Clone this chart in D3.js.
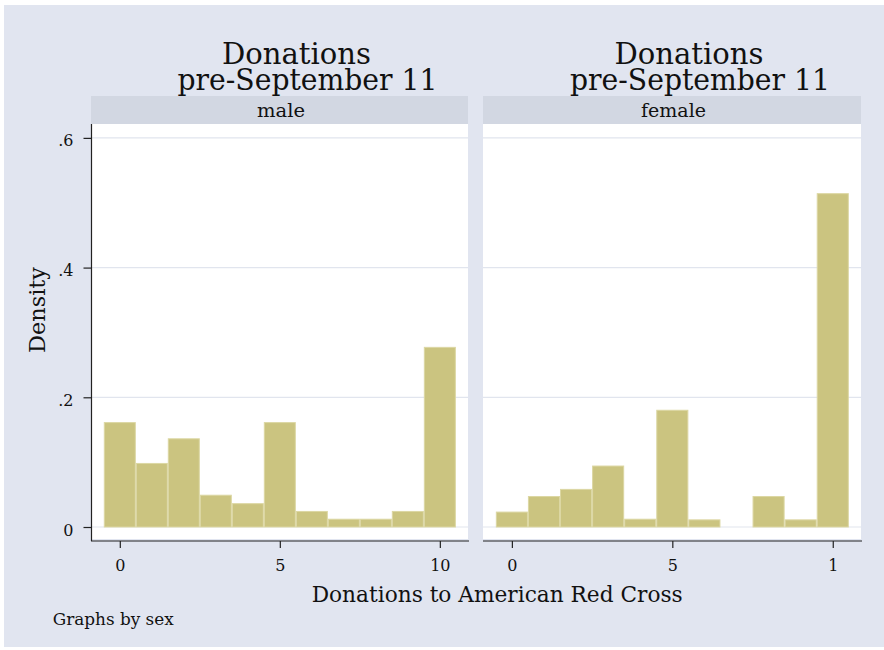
<!DOCTYPE html>
<html>
<head>
<meta charset="utf-8">
<script src="https://cdn.jsdelivr.net/npm/d3@7"></script>
<style>
  body { margin: 0; background: #ffffff; }
  text { font-family: "DejaVu Serif", serif; fill: #111; }
</style>
</head>
<body>
<div id="chart"></div>
<script>
const width = 884;
const height = 650;

// histogram bins: value 0..10, bin width 1
const binCenters = [0, 1, 2, 3, 4, 5, 6, 7, 8, 9, 10];
const maleDensity = [0.161, 0.098, 0.136, 0.049, 0.036, 0.161, 0.024, 0.012, 0.012, 0.024, 0.277];
const femaleDensity = [0.023, 0.047, 0.058, 0.094, 0.012, 0.180, 0.011, 0, 0.047, 0.011, 0.514];

const panelLabels = ["male", "female"];
const titleLines = ["Donations", "pre-September 11"];
const yTicks = [0, 0.2, 0.4, 0.6];
const yTickLabels = ["0", ".2", ".4", ".6"];
const xTicks = [0, 5, 10];
const maleXTickLabels = ["0", "5", "10"];
const femaleXTickLabels = ["0", "5", "1"];

const bgCol = "#e1e5f0";
const stripCol = "#d2d7e2";
const barFill = "#cbc480";
const barStroke = "#dcd7a3";
const gridCol = "#e1e5ee";

const panels = [
  {label: panelLabels[0], values: maleDensity, tickLabels: maleXTickLabels, x0: 91, x1: 468},
  {label: panelLabels[1], values: femaleDensity, tickLabels: femaleXTickLabels, x0: 483, x1: 861}
];

const svg = d3.select("#chart").append("svg")
  .attr("width", width)
  .attr("height", height);

svg.append("rect")
  .attr("x", 4).attr("y", 5)
  .attr("width", width - 4).attr("height", height - 8)
  .attr("fill", bgCol);

const yScale = d3.scaleLinear()
  .domain([-0.0185, 0.6214])
  .range([539, 124]);

panels.forEach((p, pi) => {
  const xScale = d3.scaleLinear()
    .domain([-0.9, 10.88])
    .range([p.x0, p.x1]);
  const cx = (p.x0 + p.x1) / 2;

  // title
  svg.append("text")
    .attr("x", cx + 17).attr("y", 64.3)
    .attr("text-anchor", "middle")
    .style("font-size", "29px")
    .attr("textLength", 149).attr("lengthAdjust", "spacingAndGlyphs")
    .text(titleLines[0]);
  svg.append("text")
    .attr("x", cx + 28).attr("y", 90)
    .attr("text-anchor", "middle")
    .style("font-size", "29px")
    .attr("textLength", 260).attr("lengthAdjust", "spacingAndGlyphs")
    .text(titleLines[1]);

  // strip
  svg.append("rect")
    .attr("x", p.x0).attr("y", 96)
    .attr("width", p.x1 - p.x0).attr("height", 28)
    .attr("fill", stripCol);
  svg.append("text")
    .attr("x", cx + 1.5).attr("y", 117.3)
    .attr("text-anchor", "middle")
    .style("font-size", "18px")
    .attr("textLength", pi === 0 ? 48 : 65).attr("lengthAdjust", "spacingAndGlyphs")
    .text(p.label);

  // plot area
  svg.append("rect")
    .attr("x", p.x0).attr("y", 124)
    .attr("width", p.x1 - p.x0).attr("height", 415)
    .attr("fill", "#ffffff");

  // gridlines
  svg.append("g")
    .selectAll("line")
    .data(yTicks)
    .join("line")
    .attr("x1", p.x0).attr("x2", p.x1)
    .attr("y1", d => yScale(d)).attr("y2", d => yScale(d))
    .attr("stroke", gridCol)
    .attr("stroke-width", 1.2);

  // bars
  svg.append("g")
    .selectAll("rect")
    .data(binCenters.map((c, i) => ({c: c, v: p.values[i]})).filter(d => d.v > 0))
    .join("rect")
    .attr("x", d => xScale(d.c - 0.5) + 0.5)
    .attr("width", d => xScale(d.c + 0.5) - xScale(d.c - 0.5) - 1)
    .attr("y", d => yScale(d.v))
    .attr("height", d => yScale(0) - yScale(d.v))
    .attr("fill", barFill)
    .attr("stroke", barStroke)
    .attr("stroke-width", 1);

  // x axis
  const xAxis = svg.append("g")
    .attr("transform", "translate(0,541)")
    .call(d3.axisBottom(xScale)
      .tickValues(xTicks)
      .tickSize(7)
      .tickSizeOuter(0)
      .tickFormat((d, i) => p.tickLabels[i]));
  xAxis.select(".domain").remove();
  xAxis.selectAll(".tick line").attr("stroke", "#222").attr("stroke-width", 1.2);
  xAxis.selectAll(".tick text")
    .attr("y", 0).attr("dy", null)
    .attr("transform", "translate(0,29.7)")
    .style("font-size", "16px")
    .style("font-family", "DejaVu Serif")
    .attr("fill", "#111");
  svg.append("line")
    .attr("x1", p.x0).attr("x2", p.x1 + 1)
    .attr("y1", 541).attr("y2", 541)
    .attr("stroke", "#222").attr("stroke-width", 1.2);

  // y axis only on first panel
  if (pi === 0) {
    const yAxis = svg.append("g")
      .attr("transform", `translate(${p.x0 + 0.5},0)`)
      .call(d3.axisLeft(yScale)
        .tickValues(yTicks)
        .tickSize(8)
        .tickSizeOuter(0)
        .tickFormat((d, i) => yTickLabels[i]));
    yAxis.select(".domain").remove();
    yAxis.selectAll(".tick line").attr("stroke", "#222").attr("stroke-width", 1.2);
    yAxis.selectAll(".tick text")
      .attr("x", -18).attr("dy", "0.5em")
      .style("font-size", "16px")
      .style("font-family", "DejaVu Serif")
      .attr("fill", "#111");
    svg.append("line")
      .attr("x1", p.x0 + 0.5).attr("x2", p.x0 + 0.5)
      .attr("y1", 124).attr("y2", 541)
      .attr("stroke", "#222").attr("stroke-width", 1.2);
  }
});

// axis titles
svg.append("text")
  .attr("x", 497.2).attr("y", 601.7)
  .attr("text-anchor", "middle")
  .style("font-size", "22px")
  .attr("textLength", 371).attr("lengthAdjust", "spacingAndGlyphs")
  .text("Donations to American Red Cross");

svg.append("text")
  .attr("transform", "translate(45,310) rotate(-90)")
  .attr("text-anchor", "middle")
  .style("font-size", "22px")
  .attr("textLength", 86).attr("lengthAdjust", "spacingAndGlyphs")
  .text("Density");

svg.append("text")
  .attr("x", 52.7).attr("y", 624.5)
  .style("font-size", "16px")
  .attr("textLength", 121).attr("lengthAdjust", "spacingAndGlyphs")
  .text("Graphs by sex");
</script>
</body>
</html>
